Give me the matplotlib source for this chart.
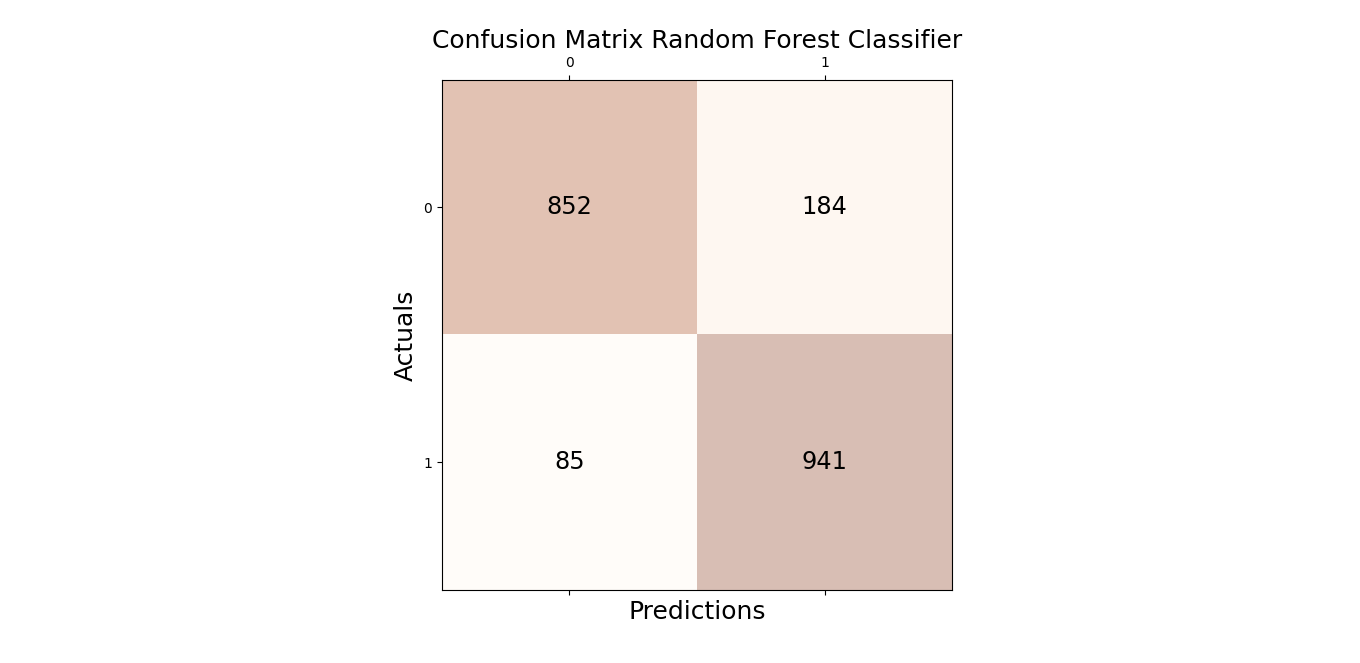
import matplotlib
matplotlib.use("Agg")
import matplotlib.pyplot as plt
import numpy as np

row_labels = ["0", "1"]
col_labels = ["0", "1"]
values = [[852, 184],
          [85, 941]]

conf_matrix = np.array(values)

fig, ax = plt.subplots(figsize=(13.6, 6.63), dpi=100)
ax.matshow(conf_matrix, cmap=plt.cm.Oranges, alpha=0.3)
for i in range(conf_matrix.shape[0]):
    for j in range(conf_matrix.shape[1]):
        ax.text(x=j, y=i, s=conf_matrix[i, j], va='center', ha='center', size='xx-large')

ax.set_xticks(range(len(col_labels)))
ax.set_xticklabels(col_labels)
ax.set_yticks(range(len(row_labels)))
ax.set_yticklabels(row_labels)

plt.xlabel('Predictions', fontsize=18)
plt.ylabel('Actuals', fontsize=18)
plt.title('Confusion Matrix Random Forest Classifier', fontsize=18)
fig.savefig("out.png", dpi=100)
